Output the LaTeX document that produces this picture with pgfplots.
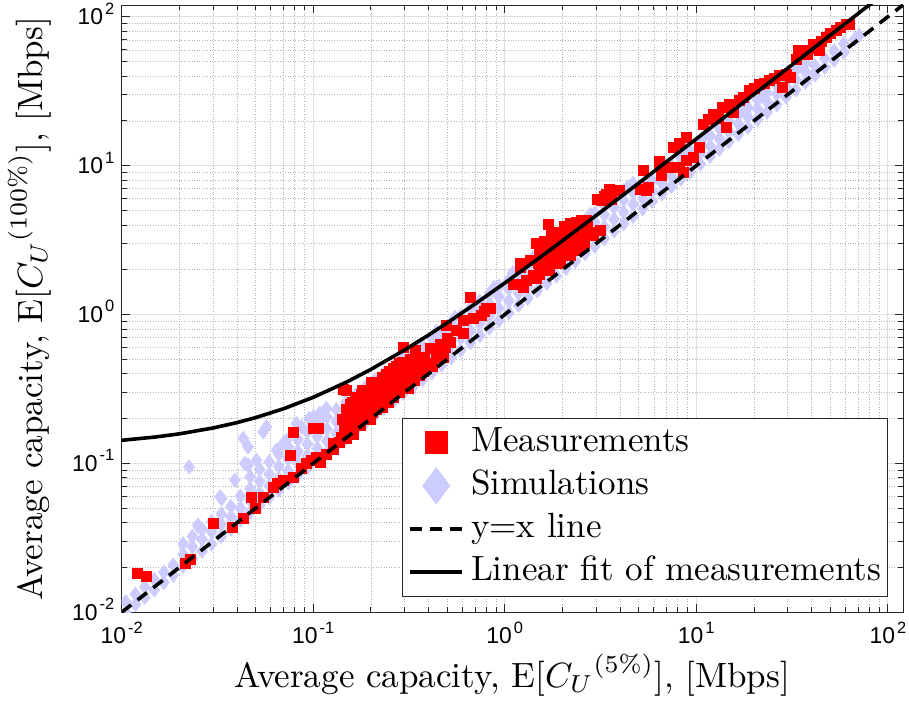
\documentclass[border=0pt]{standalone}
\usepackage{fontspec}
\usepackage{pgfplots}
\pgfplotsset{compat=1.18}
\usetikzlibrary{calc}
\newfontfamily\ticksf{Liberation Sans}
\definecolor{measred}{HTML}{FF0000}
\definecolor{simlav}{HTML}{CCCCFF}
\newcommand{\tl}[1]{{\ticksf\fontsize{23}{23}\selectfont 10\hspace{2bp}\smash{\raisebox{10.5bp}{\fontsize{16.5}{16.5}\selectfont #1}}}}
\newcommand{\bigtxt}[1]{\scalebox{3.52}{#1}}
\pgfplotsset{
    my mark img/.style={legend image code/.code={\path (0bp,0bp) (52bp,0bp); \draw[##1] plot coordinates {(26bp,0bp)};}},
    my line img/.style={legend image code/.code={\draw[##1] (0bp,0bp) -- (52bp,0bp);}},
}

\begin{document}
\begin{tikzpicture}
\begin{axis}[
    xmode=log, ymode=log,
    scale only axis,
    width=781.3bp, height=607.3bp,
    xmin=0.01, xmax=120, ymin=0.01, ymax=120,
    clip marker paths=true,
    xtick={0.01,0.1,1,10,100},
    ytick={0.01,0.1,1,10,100},
    xticklabels={\tl{-2},\tl{-1},\tl{0},\tl{1},\tl{2}},
    yticklabels={\tl{-2},\tl{-1},\tl{0},\tl{1},\tl{2}},
    minor xtick={0.02,0.03,0.04,0.05,0.06,0.07,0.08,0.09,0.2,0.3,0.4,0.5,0.6,0.7,0.8,0.9,2,3,4,5,6,7,8,9,20,30,40,50,60,70,80,90},
    minor ytick={0.02,0.03,0.04,0.05,0.06,0.07,0.08,0.09,0.2,0.3,0.4,0.5,0.6,0.7,0.8,0.9,2,3,4,5,6,7,8,9,20,30,40,50,60,70,80,90},
    xtick pos=both, ytick pos=both,
    tick align=inside,
    major tick length=8bp, minor tick length=5bp,
    tick style={black!85, line width=0.8bp},
    axis line style={black!85, line width=0.9bp},
    xmajorgrids, ymajorgrids, xminorgrids, yminorgrids,
    major grid style={draw=black!12, line width=0.8bp},
    minor grid style={draw=black!30, line width=0.6bp, dotted},
    xticklabel style={font=\ticksf\fontsize{23}{23}\selectfont, yshift=-12bp},
    yticklabel style={font=\ticksf\fontsize{23}{23}\selectfont, xshift=-4bp},
    xlabel={\bigtxt{Average capacity, E[${C_U}^{(5\%)}$], [Mbps]}},
    ylabel={\bigtxt{Average capacity, E[${C_U}^{(100\%)}$], [Mbps]}},
    xlabel style={at={(axis description cs:0.5,-0.1237)}, anchor=base, inner sep=0pt},
    ylabel style={at={(axis description cs:-0.0905,0.5)}, anchor=south, inner sep=0pt},
    legend cell align=left,
    legend style={at={(axis description cs:0.9803,0.0257)}, anchor=south east,
        draw=black!85, line width=0.8bp, fill=white,
        inner xsep=6bp, inner ysep=3bp, row sep=0bp, column sep=7bp,
        nodes={inner sep=0bp, text height=30bp, text depth=13bp}},
]

% simulations
\addplot[only marks, mark=diamond*, mark size=7.5bp, mark options={draw=simlav, fill=simlav, line width=0.2bp}, forget plot] coordinates {
(0.0105,0.01003) (0.0105,0.01176) (0.0118,0.01127) (0.0118,0.01322)
(0.0132,0.0126) (0.0132,0.01478) (0.0148,0.01413) (0.0148,0.01658)
(0.0166,0.01585) (0.0166,0.01859) (0.0186,0.01776) (0.0186,0.02083)
(0.0209,0.0204) (0.0209,0.0246) (0.0209,0.0288)
(0.0234,0.0229) (0.0234,0.0275) (0.0234,0.0323)
(0.0263,0.0257) (0.0263,0.0309) (0.0263,0.0363)
(0.0295,0.0288) (0.0295,0.0347) (0.0295,0.0407)
(0.0331,0.0323) (0.0331,0.0389) (0.0331,0.0457)
(0.0372,0.0363) (0.0372,0.0437) (0.0372,0.0513)
(0.0417,0.0417) (0.0417,0.0501) (0.0417,0.0603)
(0.0468,0.0468) (0.0468,0.0563) (0.0468,0.0676) (0.0468,0.0813)
(0.0525,0.0525) (0.0525,0.0631) (0.0525,0.0759) (0.0525,0.0912)
(0.0589,0.0589) (0.0589,0.0708) (0.0589,0.0851) (0.0589,0.1024)
(0.0661,0.0661) (0.0661,0.0795) (0.0661,0.0955) (0.0661,0.1149)
(0.0741,0.0741) (0.0741,0.0891) (0.0741,0.1071) (0.0741,0.1288)
(0.0832,0.0832) (0.0832,0.1) (0.0832,0.1202) (0.0832,0.1446)
(0.0933,0.0933) (0.0933,0.1121) (0.0933,0.1348) (0.0933,0.1622)
(0.105,0.105) (0.105,0.1262) (0.105,0.1517) (0.105,0.1825)
(0.118,0.118) (0.118,0.1418) (0.118,0.1705) (0.118,0.2051)
(0.132,0.132) (0.132,0.1587) (0.132,0.1907) (0.132,0.2294)
(0.148,0.148) (0.148,0.1779) (0.148,0.2139) (0.148,0.2572)
(0.166,0.166) (0.166,0.1995) (0.166,0.2399) (0.166,0.2885)
(0.186,0.186) (0.186,0.2236) (0.186,0.2688) (0.186,0.3233)
(0.209,0.209) (0.209,0.2512) (0.209,0.302) (0.209,0.3632)
(0.234,0.234) (0.234,0.2813) (0.234,0.3381) (0.234,0.4067)
(0.263,0.263) (0.263,0.3161) (0.263,0.38) (0.263,0.4571)
(0.295,0.295) (0.295,0.3546) (0.295,0.4263) (0.295,0.5127)
(0.331,0.3234) (0.331,0.3889) (0.331,0.4677) (0.331,0.5495)
(0.372,0.3634) (0.372,0.4371) (0.372,0.5256) (0.372,0.6175)
(0.417,0.4074) (0.417,0.49) (0.417,0.5892) (0.417,0.6922)
(0.468,0.4572) (0.468,0.5499) (0.468,0.6613) (0.468,0.7769)
(0.525,0.5129) (0.525,0.6169) (0.525,0.7418) (0.525,0.8715)
(0.589,0.5755) (0.589,0.6921) (0.589,0.8322) (0.589,0.9777)
(0.661,0.6458) (0.661,0.7767) (0.661,0.934) (0.661,1.097)
(0.741,0.724) (0.741,0.8707) (0.741,1.047) (0.741,1.23)
(0.832,0.8129) (0.832,0.9776) (0.832,1.176) (0.832,1.381)
(0.933,0.9115) (0.933,1.096) (0.933,1.318) (0.933,1.549)
(1.05,1.026) (1.05,1.234) (1.05,1.484) (1.05,1.703)
(1.18,1.153) (1.18,1.387) (1.18,1.667) (1.18,1.914)
(1.32,1.29) (1.32,1.551) (1.32,1.865) (1.32,2.141)
(1.48,1.446) (1.48,1.739) (1.48,2.091) (1.48,2.401)
(1.66,1.622) (1.66,1.951) (1.66,2.346) (1.66,2.693)
(1.86,1.817) (1.86,2.186) (1.86,2.628) (1.86,3.017)
(2.09,2.042) (2.09,2.456) (2.09,2.953) (2.09,3.39)
(2.34,2.286) (2.34,2.75) (2.34,3.306) (2.34,3.795)
(2.63,2.57) (2.63,3.09) (2.63,3.716) (2.63,4.266)
(2.95,2.882) (2.95,3.466) (2.95,4.168) (2.95,4.785)
(3.31,3.234) (3.31,3.889) (3.31,4.677) (3.31,5.369)
(3.72,3.634) (3.72,4.371) (3.72,5.256) (3.72,6.034)
(4.17,4.074) (4.17,4.9) (4.17,5.892) (4.17,6.764)
(4.68,4.572) (4.68,5.499) (4.68,6.613) (4.68,7.591)
(5.25,5.129) (5.25,6.027) (5.25,7.082)
(5.89,5.755) (5.89,6.762) (5.89,7.946)
(6.61,6.458) (6.61,7.588) (6.61,8.917)
(7.41,7.24) (7.41,8.507) (7.41,9.996)
(8.32,8.129) (8.32,9.551) (8.32,11.22)
(9.33,9.115) (9.33,10.71) (9.33,12.59)
(10.5,10.26) (10.5,12.05) (10.5,14.16)
(11.8,11.53) (11.8,13.55) (11.8,15.92)
(13.2,12.9) (13.2,15.15) (13.2,17.81)
(14.8,14.46) (14.8,16.99) (14.8,19.97)
(16.6,16.22) (16.6,19.06) (16.6,21.88)
(18.6,18.17) (18.6,21.35) (18.6,24.51)
(20.9,20.42) (20.9,23.99) (20.9,27.55)
(23.4,22.86) (23.4,26.86) (23.4,30.84)
(26.3,25.7) (26.3,30.19) (26.3,34.66)
(29.5,28.82) (29.5,33.87) (29.5,38.88)
(33.1,32.34) (33.1,38.0) (33.1,43.63)
(37.2,36.34) (37.2,42.71) (37.2,49.03)
(41.7,40.74) (41.7,46.79) (46.8,45.72) (46.8,52.51)
(52.5,51.29) (52.5,58.91) (58.9,57.55) (58.9,66.09)
(67,70.5) (71,75)
(0.35,0.61) (0.44,0.77) (0.55,0.96) (0.7,1.22) (0.88,1.52)
(1.1,1.9) (1.4,2.4) (1.75,3.0) (2.2,3.75) (2.8,4.7)
(3.5,5.8) (4.4,7.2) (5.5,8.1) (7,10.2) (8.8,12.7)
(11,15.8) (14,19.8) (17.5,24.5) (22,30.5) (28,38) (35,47)
(0.0225,0.0948) (0.0251,0.0375) (0.025,0.0386) (0.0326,0.0597)
(0.0333,0.0582) (0.039,0.0773) (0.0431,0.147) (0.0457,0.129)
(0.044,0.1) (0.0457,0.0974) (0.0506,0.105) (0.0548,0.163)
(0.057,0.176) (0.0644,0.123) (0.0697,0.136) (0.0726,0.143)
(0.0818,0.185) (0.0869,0.176) (0.1,0.206) (0.108,0.217)
(0.117,0.234) (0.108,0.193) (0.095,0.2)
};

% measurements
\addplot[only marks, mark=square*, mark size=5bp, mark options={draw=measred, fill=measred, line width=0.2bp}, forget plot] coordinates {
(0.012,0.0183) (0.0134,0.0174) (0.0214,0.0215) (0.0227,0.0227)
(0.0299,0.0399) (0.0375,0.0376) (0.043,0.0428) (0.0476,0.0591)
(0.0496,0.0499) (0.0548,0.0597) (0.0618,0.0697) (0.0644,0.0734)
(0.0697,0.0773) (0.0755,0.1138) (0.0785,0.163) (0.0785,0.0813)
(0.0869,0.0925) (0.0923,0.1) (0.098,0.105) (0.104,0.111)
(0.108,0.102) (0.1,0.172) (0.106,0.172) (0.117,0.115)
(0.127,0.125) (0.127,0.136) (0.137,0.138) (0.149,0.148)
(0.161,0.158) (0.149,0.31) (0.143,0.317)
(0.14,0.15) (0.142,0.2) (0.145,0.175) (0.148,0.23) (0.15,0.16)
(0.152,0.19) (0.155,0.25) (0.158,0.21) (0.16,0.17) (0.162,0.23)
(0.165,0.27) (0.168,0.19) (0.17,0.22) (0.172,0.25) (0.175,0.18)
(0.178,0.29) (0.18,0.2) (0.182,0.24) (0.185,0.27) (0.188,0.21)
(0.19,0.31) (0.192,0.23) (0.195,0.26) (0.198,0.2) (0.2,0.29)
(0.203,0.22) (0.206,0.33) (0.208,0.25) (0.21,0.27) (0.213,0.23)
(0.216,0.3) (0.22,0.35) (0.222,0.25) (0.225,0.28) (0.228,0.24)
(0.232,0.32) (0.235,0.27) (0.238,0.36) (0.242,0.29) (0.245,0.26)
(0.25,0.33) (0.255,0.3) (0.26,0.38) (0.262,0.28) (0.268,0.34)
(0.272,0.31) (0.278,0.4) (0.282,0.3) (0.288,0.36) (0.294,0.33)
(0.3,0.42) (0.305,0.35) (0.312,0.32) (0.318,0.4) (0.325,0.37)
(0.33,0.46) (0.338,0.36) (0.345,0.42) (0.355,0.39) (0.365,0.47)
(0.375,0.42) (0.39,0.44)
(0.16,0.26) (0.17,0.28) (0.18,0.31) (0.2,0.35) (0.21,0.34)
(0.22,0.31) (0.23,0.38) (0.23,0.33) (0.24,0.4) (0.25,0.42)
(0.25,0.37) (0.26,0.44) (0.27,0.45) (0.27,0.39) (0.28,0.47)
(0.29,0.48) (0.29,0.42) (0.31,0.46) (0.31,0.43) (0.32,0.5)
(0.34,0.48) (0.36,0.5) (0.38,0.52) (0.2,0.26) (0.22,0.29)
(0.24,0.31) (0.26,0.34) (0.28,0.36)
(0.294,0.607) (0.339,0.575) (0.406,0.592) (0.457,0.638) (0.486,0.607)
(0.44,0.519) (0.476,0.519) (0.4,0.47) (0.42,0.45) (0.495,0.847)
(0.5,0.7) (0.52,0.65) (0.45,0.56)
(0.56,0.785) (0.605,0.745) (0.605,0.916) (0.656,1.31) (0.682,0.94)
(0.755,0.99) (0.834,1.097) (0.8,1.1) (0.78,1.06)
(1.15,1.61) (1.196,2.2) (1.2,2.09) (1.245,1.53) (1.297,1.7)
(1.349,2.31) (1.4,1.84) (1.52,2.57) (1.52,1.88) (1.648,2.5)
(1.68,4.08) (1.5,2.2) (1.55,2.35) (1.6,2.0) (1.62,2.7)
(1.7,2.25) (1.72,2.9) (1.78,2.5) (1.8,3.1) (1.85,2.7)
(1.88,3.3) (1.92,2.5) (1.95,3.0) (2.0,3.4) (2.02,2.7)
(2.08,3.1) (2.12,3.5) (2.18,2.9) (2.22,3.3) (2.3,3.7)
(2.35,3.1) (2.42,3.5) (2.5,3.9) (2.55,3.3) (2.62,3.7)
(1.1,1.61) (1.45,3.0) (1.6,3.1) (1.75,3.4) (1.9,3.6)
(2.05,3.9) (2.2,4.1) (2.35,4.2) (2.5,4.3) (2.65,4.3)
(2.7,3.9) (2.8,3.6) (2.9,3.4) (2.45,2.8) (2.2,2.5)
(1.95,2.2) (1.7,2.0) (1.45,1.75) (2.6,3.0) (2.35,2.7)
(3.13,3.68) (3.05,6.0) (3.19,5.85) (3.3,6.2) (3.39,6.49)
(3.5,7.0) (3.6,6.0) (3.97,6.82)
(5.26,9.29) (5.48,6.82) (5.1,7.0) (5.6,7.2) (6.43,10.8)
(6.56,8.6) (6.43,10.3) (7.24,9.79) (7.54,13.3) (8.17,14.1)
(8.17,9.79) (8.5,9.06) (8.85,15.6) (8.85,10.9) (9.59,11.4)
(10.4,13.3) (10.8,19.1) (11.5,20.5) (12.2,22.3) (13,21)
(13.7,24.7) (14.3,18.2) (14.9,26.0) (15.5,23) (16.8,27.4)
(17.5,29) (18.9,32.0) (20,33) (21.3,35.5) (22.5,36)
(24.0,37.3) (25.5,38.5) (27.1,40.3) (28.2,33.7) (29.4,41.4)
(30.7,39.4) (33,52) (34,60) (36.0,59.4) (38,56)
(40.5,65.9) (42,62) (44.0,59.4) (45,69) (47.6,73)
(50,78) (53.7,80.9) (56,85) (60.5,89.8) (63,89.8)
};

% y = x line
\addplot[black, line width=3.6bp, dash pattern=on 12bp off 8bp, forget plot] coordinates {
(0.01,0.01) (120,120)
};

% linear fit of measurements
\addplot[black, line width=3.6bp, forget plot] coordinates {
(0.01,0.143) (0.015,0.1505) (0.02,0.158) (0.03,0.173) (0.04,0.188)
(0.05,0.203) (0.07,0.233) (0.1,0.278) (0.15,0.353) (0.2,0.428)
(0.3,0.578) (0.4,0.728) (0.5,0.878) (0.7,1.178) (1,1.628)
(1.5,2.378) (2,3.128) (3,4.628) (5,7.628) (10,15.128)
(20,30.128) (50,75.128) (100,150.128)
};

\addlegendimage{my mark img, only marks, mark=square*, mark size=11bp, draw=measred, fill=measred}
\addlegendentry{\bigtxt{Measurements}}
\addlegendimage{my mark img, only marks, mark=diamond*, mark size=18bp, draw=simlav, fill=simlav}
\addlegendentry{\bigtxt{Simulations}}
\addlegendimage{my line img, black, line width=3.6bp, dash pattern=on 12bp off 8bp}
\addlegendentry{\bigtxt{y=x line}}
\addlegendimage{my line img, black, line width=3.6bp}
\addlegendentry{\bigtxt{Linear fit of measurements}}
\end{axis}
\pgfresetboundingbox
\path ($(current axis.south west)+(-121.7bp,-95.7bp)$) rectangle ($(current axis.north east)+(6bp,5bp)$);
\end{tikzpicture}
\end{document}
